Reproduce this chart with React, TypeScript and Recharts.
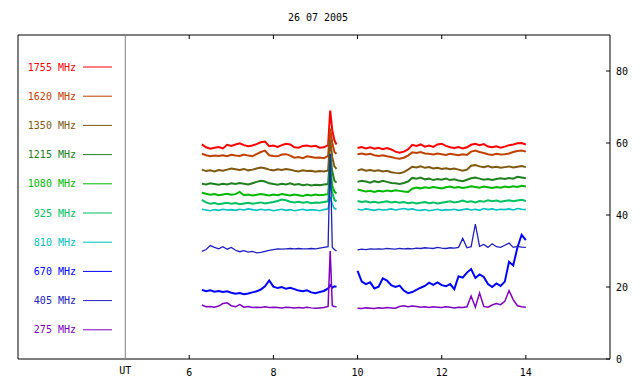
import { LineChart, Line, XAxis, YAxis, ReferenceArea, ReferenceLine } from "recharts";

// sample times (UT hours), two observing runs with a gap between them
const timesA = [6.3, 6.4, 6.5, 6.6, 6.7, 6.8, 6.9, 7.0, 7.1, 7.2, 7.3, 7.4, 7.5, 7.6, 7.7, 7.8, 7.9, 8.0, 8.1, 8.2, 8.3, 8.4, 8.5, 8.6, 8.7, 8.8, 8.9, 9.0, 9.1, 9.2, 9.3, 9.35, 9.4, 9.45, 9.5];
const timesB = [10.0, 10.1, 10.2, 10.3, 10.4, 10.5, 10.6, 10.7, 10.8, 10.9, 11.0, 11.1, 11.2, 11.3, 11.4, 11.5, 11.6, 11.7, 11.8, 11.9, 12.0, 12.1, 12.2, 12.3, 12.4, 12.5, 12.6, 12.7, 12.8, 12.9, 13.0, 13.1, 13.2, 13.3, 13.4, 13.5, 13.6, 13.7, 13.8, 13.9, 14.0];
const gapTime = 9.7;

const f1755a = [59.6, 58.8, 58.4, 58.7, 58.9, 58.5, 59.5, 59.2, 59.6, 59.9, 59.4, 59.1, 59.3, 59.7, 60.2, 60.4, 59.1, 59.3, 58.9, 59.4, 59.8, 59.6, 58.8, 58.7, 59.2, 59.3, 59.0, 59.2, 58.7, 58.8, 59.4, 69.0, 63.5, 60.8, 59.6];
const f1755b = [58.6, 58.9, 58.5, 58.8, 58.4, 58.7, 58.3, 58.6, 58.2, 57.6, 57.3, 57.6, 58.2, 59.5, 59.2, 59.6, 59.0, 59.3, 58.9, 59.6, 59.8, 59.2, 58.8, 58.6, 58.9, 58.5, 58.8, 59.5, 59.8, 59.4, 59.7, 59.0, 58.8, 59.1, 58.7, 59.0, 59.4, 59.6, 59.9, 60.0, 59.6];
const f1620a = [57.0, 56.6, 56.3, 56.5, 56.4, 56.6, 56.3, 56.7, 56.5, 56.4, 56.8, 56.5, 56.3, 56.9, 57.5, 57.9, 56.6, 56.4, 56.3, 56.8, 56.9, 56.5, 55.9, 56.1, 55.8, 56.3, 56.1, 55.9, 56.0, 55.8, 56.4, 64.0, 60.0, 57.5, 57.0];
const f1620b = [56.9, 57.1, 56.8, 57.0, 56.6, 56.4, 56.6, 56.3, 56.1, 55.8, 55.6, 55.9, 56.5, 57.4, 57.2, 57.5, 57.1, 57.0, 56.8, 57.1, 56.9, 56.7, 57.0, 56.8, 56.6, 56.9, 56.7, 57.6, 57.9, 57.5, 57.2, 56.9, 56.7, 57.0, 56.8, 56.9, 57.1, 57.5, 57.8, 57.9, 57.6];
const f1350a = [52.6, 52.2, 52.4, 52.1, 52.5, 52.3, 52.6, 52.9, 52.7, 52.5, 52.8, 52.4, 52.6, 52.9, 53.2, 53.0, 52.6, 52.4, 52.7, 52.5, 52.8, 52.6, 52.3, 52.1, 52.4, 52.2, 52.3, 52.0, 52.2, 52.1, 52.4, 61.0, 56.0, 53.5, 52.8];
const f1350b = [52.4, 52.7, 52.3, 52.5, 52.2, 52.4, 52.1, 52.3, 51.9, 51.7, 51.6, 51.9, 52.6, 53.4, 53.2, 53.5, 53.1, 53.3, 52.9, 53.1, 52.8, 53.0, 52.7, 52.9, 52.6, 52.3, 52.6, 53.7, 53.9, 53.5, 53.3, 53.6, 53.2, 53.4, 53.1, 53.3, 53.5, 53.2, 53.4, 53.6, 53.3];
const f1215a = [48.7, 48.5, 48.8, 48.6, 48.4, 48.7, 48.5, 48.8, 48.6, 48.9, 48.7, 48.5, 48.8, 49.2, 49.5, 49.3, 48.8, 48.6, 48.4, 48.7, 48.5, 48.8, 48.4, 48.6, 48.3, 48.5, 48.2, 48.4, 48.3, 48.5, 48.6, 57.0, 52.0, 49.5, 49.0];
const f1215b = [49.2, 49.5, 49.3, 49.0, 49.4, 49.1, 49.5, 49.2, 48.9, 48.8, 48.6, 48.9, 49.3, 50.3, 50.1, 50.4, 49.9, 50.1, 49.7, 50.0, 49.8, 50.1, 49.7, 49.9, 49.6, 49.4, 49.8, 50.2, 50.4, 50.1, 49.8, 50.0, 49.7, 50.0, 50.2, 50.0, 50.3, 50.1, 50.6, 50.4, 50.2];
const f1080a = [46.2, 45.9, 45.6, 45.8, 45.5, 45.7, 45.9, 45.6, 45.8, 46.4, 45.5, 45.7, 45.4, 45.6, 45.8, 45.6, 45.4, 45.7, 45.5, 45.8, 45.6, 45.4, 45.7, 45.5, 45.3, 45.6, 45.4, 45.7, 45.5, 45.6, 45.8, 53.0, 48.0, 46.5, 46.0];
const f1080b = [47.1, 46.8, 46.5, 46.7, 46.4, 46.7, 46.5, 46.8, 46.6, 46.9, 46.7, 46.5, 46.4, 47.3, 47.6, 47.4, 47.7, 47.5, 47.8, 47.6, 47.4, 47.7, 47.9, 47.6, 47.8, 47.5, 47.7, 48.0, 47.8, 47.6, 47.9, 47.7, 47.5, 47.8, 47.6, 47.9, 47.7, 48.0, 47.8, 48.1, 47.9];
const f925a = [44.2, 43.5, 43.1, 43.3, 43.0, 43.2, 43.4, 43.1, 43.3, 43.0, 43.2, 43.4, 43.1, 43.3, 43.5, 43.2, 43.4, 43.6, 43.9, 44.3, 44.1, 43.7, 43.5, 43.7, 43.4, 43.6, 43.3, 43.5, 43.4, 43.6, 43.8, 49.0, 46.0, 44.2, 43.8];
const f925b = [43.9, 43.6, 43.8, 43.5, 43.7, 43.4, 43.6, 43.8, 43.5, 43.7, 43.4, 43.6, 43.3, 43.5, 43.2, 43.4, 43.6, 43.3, 43.5, 43.2, 43.4, 43.6, 43.8, 43.5, 43.7, 44.0, 43.6, 43.8, 43.5, 43.9, 43.7, 44.1, 43.8, 44.0, 43.7, 43.9, 44.1, 43.8, 44.0, 44.2, 43.9];
const f810a = [41.6, 41.4, 41.2, 41.5, 41.3, 41.6, 41.4, 41.5, 41.3, 41.6, 41.4, 41.7, 41.5, 41.3, 41.6, 41.4, 41.5, 41.2, 41.4, 41.6, 41.3, 41.5, 41.2, 41.4, 41.6, 41.3, 41.5, 41.4, 41.2, 41.5, 41.7, 45.0, 43.0, 41.8, 41.6];
const f810b = [41.6, 41.4, 41.7, 41.5, 41.3, 41.6, 41.4, 41.5, 41.7, 41.4, 41.6, 41.8, 41.5, 41.7, 41.4, 41.3, 41.5, 41.2, 41.4, 41.6, 41.3, 41.5, 41.4, 41.6, 41.3, 41.5, 41.7, 41.4, 41.6, 41.3, 41.8, 41.5, 41.7, 41.4, 41.6, 41.5, 41.7, 41.4, 41.8, 41.6, 41.5];
const f670a = [19.2, 18.8, 19.1, 18.7, 18.9, 18.6, 18.8, 18.4, 18.1, 18.3, 18.0, 18.2, 18.5, 18.8, 19.3, 20.2, 21.8, 20.1, 19.7, 20.0, 19.5, 19.8, 19.4, 19.0, 18.8, 19.1, 18.5, 18.3, 18.6, 18.9, 19.6, 20.5, 19.8, 20.2, 20.1];
const f670b = [24.5, 21.5, 20.8, 21.3, 19.6, 20.1, 22.4, 21.8, 20.5, 20.0, 20.4, 19.0, 18.3, 18.6, 19.2, 19.8, 20.3, 21.2, 20.6, 21.3, 20.5, 20.2, 20.8, 19.4, 23.0, 22.6, 24.0, 25.0, 22.5, 23.5, 22.8, 20.8, 20.0, 21.0, 20.3, 21.5, 27.0, 26.0, 31.0, 34.5, 33.0];
const f405a = [29.9, 30.4, 31.5, 31.0, 30.6, 31.2, 30.5, 31.0, 30.2, 29.8, 30.1, 29.7, 29.9, 29.5, 29.6, 29.9, 30.2, 30.4, 30.6, 30.5, 30.6, 30.7, 30.6, 30.7, 30.6, 30.6, 30.7, 30.6, 30.8, 31.0, 31.2, 57.0, 31.0, 30.4, 30.0];
const f405b = [30.3, 30.5, 30.4, 30.6, 30.5, 30.6, 30.5, 30.7, 30.6, 30.5, 30.7, 30.6, 30.7, 30.6, 30.8, 30.7, 30.9, 30.8, 30.7, 31.0, 30.8, 30.7, 30.9, 30.8, 31.0, 33.5, 30.9, 31.2, 37.5, 31.3, 31.8, 31.0, 32.0, 31.2, 31.0, 31.6, 32.2, 31.0, 31.3, 31.1, 31.0];
const f275a = [15.0, 14.5, 14.6, 14.4, 14.7, 15.4, 15.6, 14.8, 14.5, 15.1, 14.4, 14.6, 14.3, 14.4, 14.3, 14.5, 14.3, 14.4, 14.3, 14.2, 14.4, 14.3, 14.2, 14.3, 14.2, 14.4, 14.2, 14.1, 14.2, 14.3, 14.6, 30.0, 14.8, 14.6, 14.5];
const f275b = [14.1, 14.0, 14.2, 14.1, 14.0, 14.2, 14.1, 14.3, 14.2, 14.1, 14.6, 14.8, 14.5, 14.7, 14.6, 14.4, 14.5, 14.3, 14.5, 14.4, 14.3, 14.5, 14.4, 14.2, 14.4, 14.3, 14.5, 17.5, 14.4, 18.3, 14.6, 14.4, 15.0, 15.4, 15.1, 16.0, 19.0, 16.5, 14.8, 14.5, 14.4];

const xTicks = [6, 8, 10, 12, 14];
const yTicks = [0, 20, 40, 60, 80];
const utTime = 4.48;

// noisy channels are drawn a bit heavier, like the 1 s samples in the original plot
const series = [
  { key: "f1755", name: "1755 MHz", color: "#ff0000", width: 2, a: f1755a, b: f1755b },
  { key: "f1620", name: "1620 MHz", color: "#c04000", width: 2, a: f1620a, b: f1620b },
  { key: "f1350", name: "1350 MHz", color: "#805810", width: 2, a: f1350a, b: f1350b },
  { key: "f1215", name: "1215 MHz", color: "#208020", width: 2, a: f1215a, b: f1215b },
  { key: "f1080", name: "1080 MHz", color: "#00b800", width: 2, a: f1080a, b: f1080b },
  { key: "f925", name: "925 MHz", color: "#00c060", width: 2, a: f925a, b: f925b },
  { key: "f810", name: "810 MHz", color: "#00c0c0", width: 1.6, a: f810a, b: f810b },
  { key: "f670", name: "670 MHz", color: "#0000ff", width: 2, a: f670a, b: f670b },
  { key: "f405", name: "405 MHz", color: "#2020c0", width: 1.3, a: f405a, b: f405b },
  { key: "f275", name: "275 MHz", color: "#8000c0", width: 1.5, a: f275a, b: f275b },
];

const makeRow = (t: number, pick: (s: (typeof series)[number]) => number | null) => {
  const row: Record<string, number | null> = { t };
  series.forEach((s) => (row[s.key] = pick(s)));
  return row;
};

const rows = [
  ...timesA.map((t, i) => makeRow(t, (s) => s.a[i])),
  makeRow(gapTime, () => null),
  ...timesB.map((t, i) => makeRow(t, (s) => s.b[i])),
];

const FONT = "'DejaVu Sans Mono', monospace";
const PLOT_TOP = 35;

const XTick = ({ x, y, payload }: any) => (
  <g>
    <line x1={x} x2={x} y1={y} y2={y - 4} stroke="#000" />
    <line x1={x} x2={x} y1={PLOT_TOP} y2={PLOT_TOP + 4} stroke="#000" />
    <text x={x} y={y + 17} textAnchor="middle" fontSize={10} fontFamily={FONT} fill="#000">
      {payload.value}
    </text>
  </g>
);

const YTick = ({ x, y, payload }: any) => (
  <g>
    <line x1={x - 4} x2={x} y1={y} y2={y} stroke="#000" />
    <text x={x + 6} y={y + 4} textAnchor="start" fontSize={10} fontFamily={FONT} fill="#000">
      {payload.value}
    </text>
  </g>
);

const App = () => (
  <div style={{ position: "absolute", left: 0, top: 0, width: 640, height: 384, background: "#fff" }}>
    <div
      style={{
        position: "absolute",
        top: 12,
        left: 0,
        width: 636,
        textAlign: "center",
        fontFamily: FONT,
        fontSize: 10,
        lineHeight: "12px",
      }}
    >
      26 07 2005
    </div>
    <LineChart width={640} height={384} data={rows} margin={{ top: 35, right: 0, bottom: 0, left: 18 }}>
      <XAxis
        dataKey="t"
        type="number"
        domain={[1.93, 16]}
        allowDataOverflow
        ticks={xTicks}
        interval={0}
        height={25}
        axisLine={false}
        tickLine={false}
        tickSize={0}
        tickMargin={0}
        tick={<XTick />}
      />
      <YAxis
        orientation="right"
        type="number"
        domain={[0, 90]}
        ticks={yTicks}
        interval={0}
        width={30}
        axisLine={false}
        tickLine={false}
        tickSize={0}
        tickMargin={0}
        tick={<YTick />}
      />
      <ReferenceArea x1={1.93} x2={16} y1={0} y2={90} fill="none" stroke="#000" strokeWidth={1} />
      <ReferenceLine
        x={utTime}
        stroke="#808080"
        label={({ viewBox }: any) => (
          <text x={viewBox.x} y={viewBox.y + viewBox.height + 15} textAnchor="middle" fontSize={10} fontFamily={FONT} fill="#000">
            UT
          </text>
        )}
      />
      {series.map((s) => (
        <Line
          key={s.key}
          dataKey={s.key}
          name={s.name}
          stroke={s.color}
          strokeWidth={s.width}
          dot={false}
          type="linear"
          connectNulls={false}
          isAnimationActive={false}
        />
      ))}
    </LineChart>
    <svg width={130} height={384} style={{ position: "absolute", left: 0, top: 0 }}>
      {series.map((s, i) => {
        const y = 67 + i * 29.2;
        return (
          <g key={s.key}>
            <text x={76} y={y + 3.5} textAnchor="end" fontSize={10} fontFamily={FONT} fill={s.color}>
              {s.name}
            </text>
            <line x1={83} x2={112} y1={y} y2={y} stroke={s.color} strokeWidth={1} />
          </g>
        );
      })}
    </svg>
  </div>
);

export default App;
